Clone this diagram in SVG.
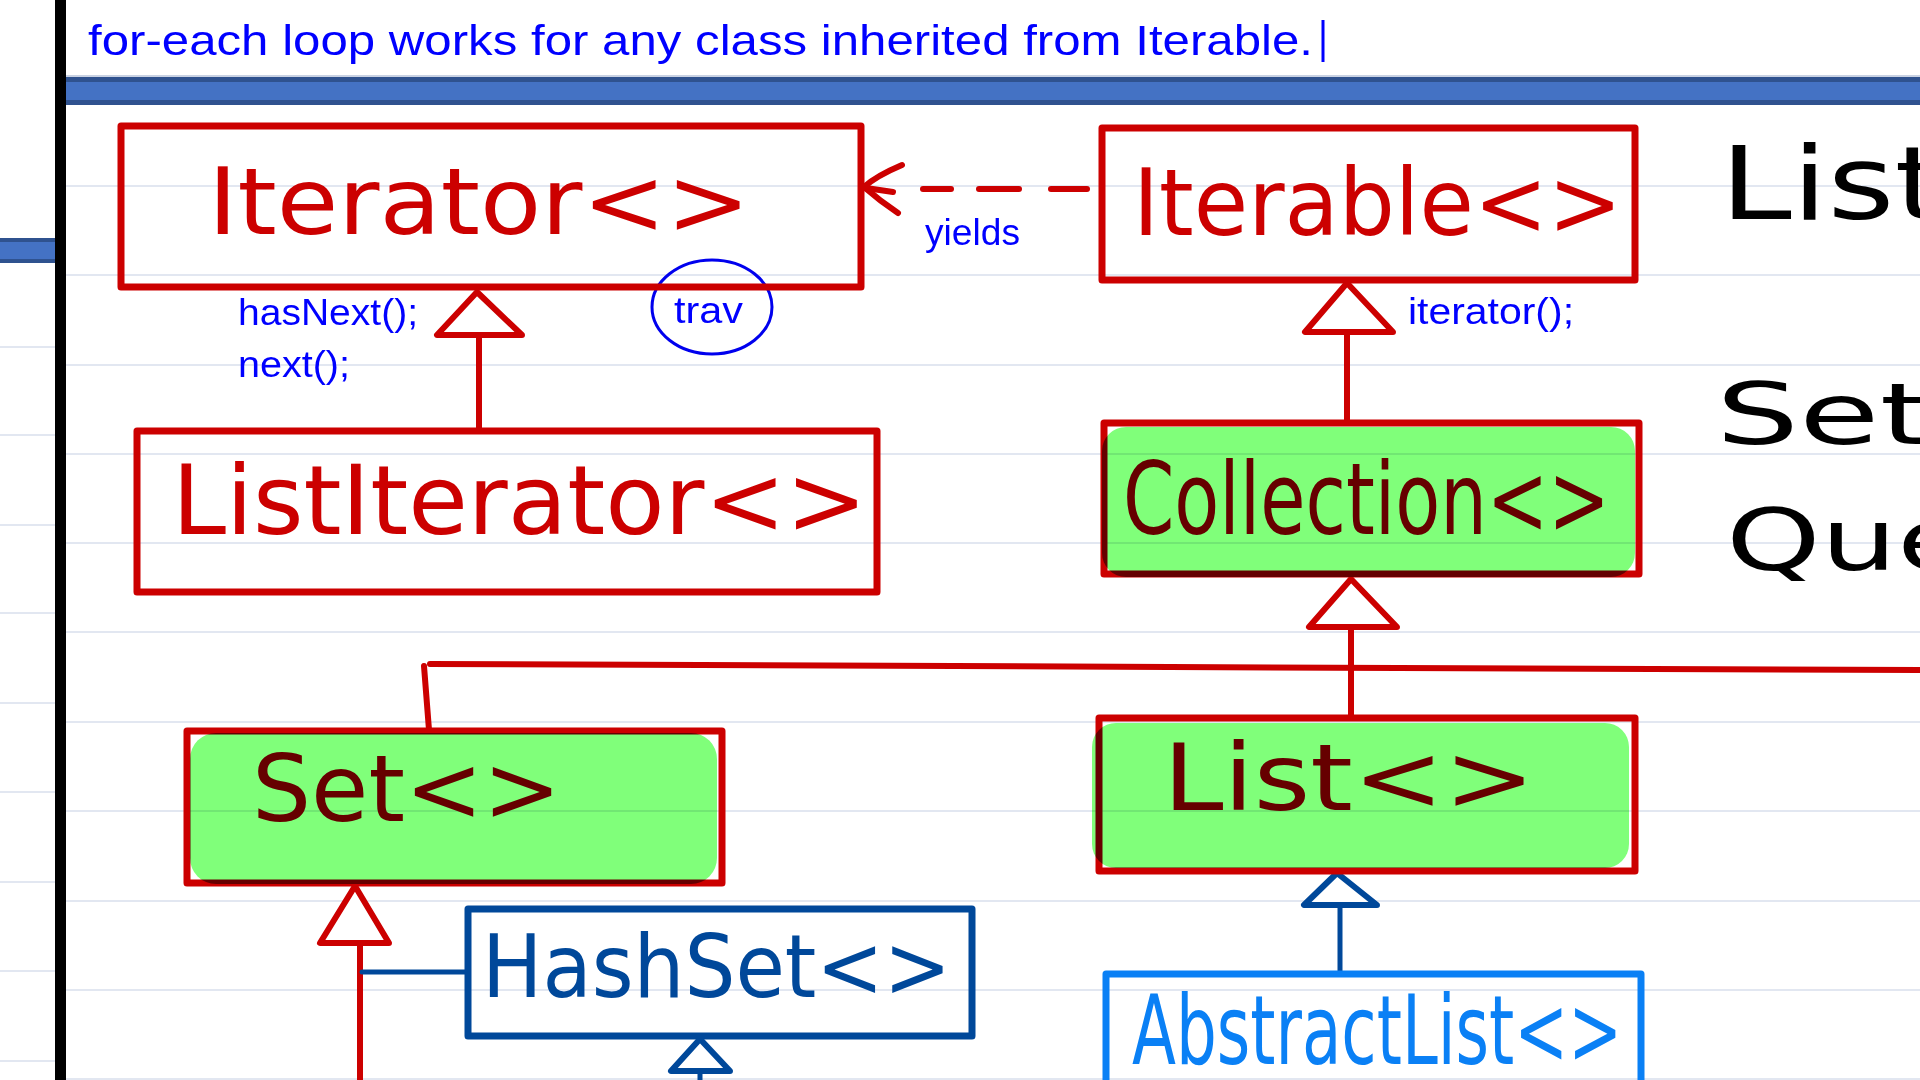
<svg xmlns="http://www.w3.org/2000/svg" width="1920" height="1080" viewBox="0 0 1920 1080">
<style>
.rule{stroke:#e2e7f1;stroke-width:2}
.rbox{fill:none;stroke:#cc0000;stroke-width:7;stroke-linejoin:round}
.dbox{fill:none;stroke:#00489a;stroke-width:7;stroke-linejoin:round}
.lbox{fill:none;stroke:#0a80f5;stroke-width:7;stroke-linejoin:round}
.hand{font-family:"DejaVu Sans","Liberation Sans",sans-serif}
.red{fill:#cc0000}
.dkblue{fill:#00489a}
.ltblue{fill:#0a80f5}
.note{font-family:"Liberation Sans","DejaVu Sans",sans-serif;fill:#0000ff}
.hl{fill:#80ff7a;mix-blend-mode:multiply}
.rline{fill:none;stroke:#cc0000;stroke-width:6;stroke-linecap:round;stroke-linejoin:round}
.bline{fill:none;stroke:#00489a;stroke-width:5;stroke-linecap:round;stroke-linejoin:round}
.tri{fill:#ffffff;stroke:#cc0000;stroke-width:6;stroke-linejoin:round}
.btri{fill:#ffffff;stroke:#00489a;stroke-width:6;stroke-linejoin:round}
.blk{font-family:"DejaVu Sans","Liberation Sans",sans-serif;fill:#000000}
</style>
<rect x="0" y="0" width="1920" height="1080" fill="#ffffff"/>
<g id="background">
  <g class="rule">
    <line x1="66" y1="186" x2="1920" y2="186"/>
    <line x1="66" y1="275" x2="1920" y2="275"/>
    <line x1="66" y1="365" x2="1920" y2="365"/>
    <line x1="66" y1="454" x2="1920" y2="454"/>
    <line x1="66" y1="543" x2="1920" y2="543"/>
    <line x1="66" y1="632" x2="1920" y2="632"/>
    <line x1="66" y1="722" x2="1920" y2="722"/>
    <line x1="66" y1="811" x2="1920" y2="811"/>
    <line x1="66" y1="901" x2="1920" y2="901"/>
    <line x1="66" y1="990" x2="1920" y2="990"/>
    <line x1="66" y1="1079" x2="1920" y2="1079"/>
    <line x1="0" y1="347" x2="55" y2="347"/>
    <line x1="0" y1="435" x2="55" y2="435"/>
    <line x1="0" y1="525" x2="55" y2="525"/>
    <line x1="0" y1="613" x2="55" y2="613"/>
    <line x1="0" y1="703" x2="55" y2="703"/>
    <line x1="0" y1="792" x2="55" y2="792"/>
    <line x1="0" y1="882" x2="55" y2="882"/>
    <line x1="0" y1="971" x2="55" y2="971"/>
    <line x1="0" y1="1061" x2="55" y2="1061"/>
  </g>
  <line x1="66" y1="76" x2="1920" y2="76" stroke="#c9d2e3" stroke-width="2"/>
  <rect x="66" y="77" width="1854" height="28" fill="#2f528f"/>
  <rect x="66" y="82" width="1854" height="18" fill="#4472c4"/>
  <rect x="0" y="238" width="55" height="25" fill="#2f528f"/>
  <rect x="0" y="242" width="55" height="17" fill="#4472c4"/>
  <rect x="55" y="0" width="11" height="1080" fill="#000000"/>
</g>
<g id="header">
  <text class="note" x="88" y="55" font-size="42" textLength="1225" lengthAdjust="spacingAndGlyphs">for-each loop works for any class inherited from Iterable.</text>
  <line x1="1323" y1="20" x2="1323" y2="62" stroke="#0000ff" stroke-width="3"/>
</g>
<g id="connectors">
  <path class="rline" d="M902,165 Q876,176 864,187 Q880,201 898,213"/>
  <path class="rline" d="M866,188 L893,192"/>
  <line class="rline" x1="923" y1="189" x2="951" y2="189" stroke-width="7"/>
  <line class="rline" x1="979" y1="189" x2="1019" y2="189" stroke-width="7"/>
  <line class="rline" x1="1051" y1="189" x2="1087" y2="189" stroke-width="7"/>
  <line class="rline" x1="479" y1="335" x2="479" y2="430"/>
  <polygon class="tri" points="477,292 437,335 522,335"/>
  <line class="rline" x1="1347" y1="332" x2="1347" y2="421"/>
  <polygon class="tri" points="1347,283 1305,332 1393,332"/>
  <line class="rline" x1="1351" y1="627" x2="1351" y2="717"/>
  <polygon class="tri" points="1351,579 1309,627 1397,627"/>
  <path class="rline" d="M430,664 L1920,670"/>
  <path class="rline" stroke-width="4" d="M424,666 L429,730"/>
  <line class="rline" x1="360" y1="943" x2="360" y2="1082"/>
  <polygon class="tri" points="355,886 320,943 389,943"/>
  <line class="bline" x1="362" y1="972" x2="468" y2="972"/>
  <line class="bline" x1="700" y1="1071" x2="700" y2="1082"/>
  <polygon class="btri" points="700,1039 671,1071 730,1071"/>
  <line class="bline" x1="1340" y1="905" x2="1340" y2="973"/>
  <polygon class="btri" points="1337,873 1304,905 1377,905"/>
</g>
<g id="labels">
  <text class="note" x="925" y="245" font-size="36" textLength="95" lengthAdjust="spacingAndGlyphs">yields</text>
  <text class="note" x="238" y="325" font-size="37" textLength="180" lengthAdjust="spacingAndGlyphs">hasNext();</text>
  <text class="note" x="238" y="377" font-size="37" textLength="112" lengthAdjust="spacingAndGlyphs">next();</text>
  <text class="note" x="1408" y="324" font-size="37" textLength="166" lengthAdjust="spacingAndGlyphs">iterator();</text>
</g>
<g id="trav">
  <ellipse cx="712" cy="307" rx="60" ry="47" fill="none" stroke="#0000ee" stroke-width="3"/>
  <text class="note" x="674" y="323" font-size="36" textLength="69" lengthAdjust="spacingAndGlyphs">trav</text>
</g>
<g id="iterator">
  <rect class="rbox" x="121" y="126" width="740" height="161"/>
  <text class="hand red" x="208" y="234" font-size="92" textLength="542" lengthAdjust="spacingAndGlyphs">Iterator&lt;&gt;</text>
</g>
<g id="iterable">
  <rect class="rbox" x="1102" y="128" width="533" height="152"/>
  <text class="hand red" x="1133" y="235" font-size="92" textLength="489" lengthAdjust="spacingAndGlyphs">Iterable&lt;&gt;</text>
</g>
<g id="listiterator">
  <rect class="rbox" x="137" y="431" width="740" height="161"/>
  <text class="hand red" x="172" y="534" font-size="96" textLength="695" lengthAdjust="spacingAndGlyphs">ListIterator&lt;&gt;</text>
</g>
<g id="collection">
  <rect class="rbox" x="1104" y="423" width="535" height="151"/>
  <text class="hand red" x="1123" y="534" font-size="100" textLength="487" lengthAdjust="spacingAndGlyphs">Collection&lt;&gt;</text>
  <rect class="hl" x="1102" y="427" width="533" height="150" rx="24"/>
</g>
<g id="set">
  <rect class="rbox" x="187" y="731" width="535" height="152"/>
  <text class="hand red" x="252" y="821" font-size="92" textLength="309" lengthAdjust="spacingAndGlyphs">Set&lt;&gt;</text>
  <rect class="hl" x="190" y="733" width="527" height="151" rx="26"/>
</g>
<g id="list">
  <rect class="rbox" x="1099" y="718" width="536" height="153"/>
  <text class="hand red" x="1163" y="810" font-size="92" textLength="372" lengthAdjust="spacingAndGlyphs">List&lt;&gt;</text>
  <rect class="hl" x="1092" y="723" width="537" height="145" rx="24"/>
</g>
<g id="hashset">
  <rect class="dbox" x="468" y="909" width="504" height="127"/>
  <text class="hand dkblue" x="482" y="997" font-size="88" textLength="469" lengthAdjust="spacingAndGlyphs">HashSet&lt;&gt;</text>
</g>
<g id="abstractlist">
  <rect class="lbox" x="1106" y="974" width="535" height="130"/>
  <text class="hand ltblue" x="1132" y="1064" font-size="96" textLength="490" lengthAdjust="spacingAndGlyphs">AbstractList&lt;&gt;</text>
</g>
<g id="side-notes">
  <text class="blk" x="1720" y="219" font-size="102" textLength="225" lengthAdjust="spacingAndGlyphs">List</text>
  <text class="blk" x="1716" y="444" font-size="86" textLength="215" lengthAdjust="spacingAndGlyphs">Set</text>
  <text class="blk" x="1726" y="570" font-size="86" textLength="245" lengthAdjust="spacingAndGlyphs">Que</text>
</g>
</svg>
